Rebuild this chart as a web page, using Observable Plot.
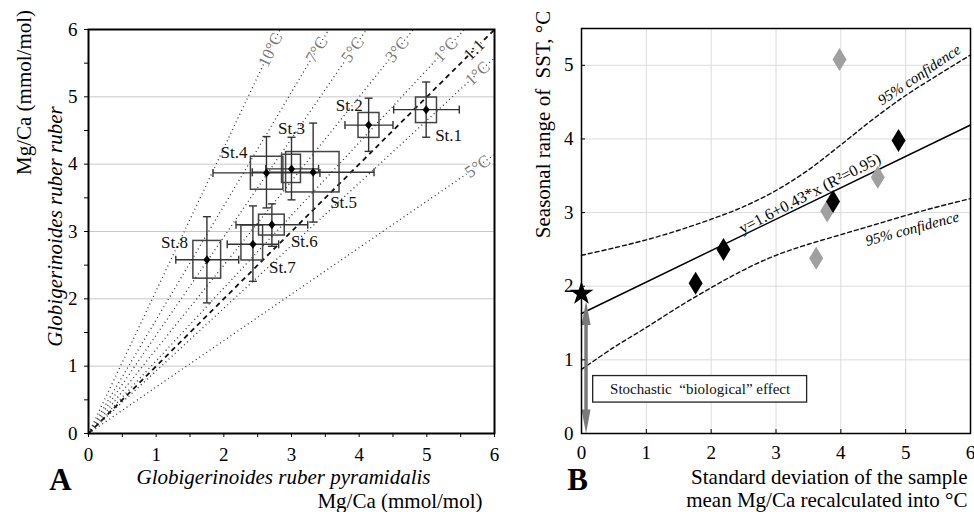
<!DOCTYPE html>
<html><head><meta charset="utf-8">
<script src="https://cdn.jsdelivr.net/npm/d3@7"></script>
<script src="https://cdn.jsdelivr.net/npm/@observablehq/plot@0.6"></script>
<style>
body{margin:0;background:#fff;}
#wrap{position:relative;width:974px;height:512px;overflow:hidden;background:#fff;}
#pa{position:absolute;left:0;top:0;}
#pb{position:absolute;left:500px;top:0;}
svg text{font-family:"Liberation Serif","Times New Roman",serif;}
</style></head><body><div id="wrap"><div id="pa"></div><div id="pb"></div></div>
<script>
// ---------- Panel A data ----------
const stNames = ["St.1","St.2","St.3","St.4","St.5","St.6","St.7","St.8"];
const stX   = [4.99, 4.14, 3.00, 2.63, 3.32, 2.71, 2.43, 1.75];
const stY   = [4.81, 4.58, 3.93, 3.87, 3.88, 3.10, 2.81, 2.58];
const stXlo = [4.51, 3.79, 2.62, 1.84, 2.42, 2.18, 2.05, 1.29];
const stXhi = [5.48, 4.50, 3.40, 3.42, 4.22, 3.24, 2.81, 2.22];
const stYlo = [4.40, 4.19, 3.47, 3.35, 3.14, 2.78, 2.26, 1.94];
const stYhi = [5.22, 4.98, 4.40, 4.41, 4.61, 3.41, 3.38, 3.22];
const boxX1 = [4.84, 3.99, 2.86, 2.40, 2.92, 2.52, 2.26, 1.55];
const boxX2 = [5.15, 4.30, 3.14, 2.88, 3.71, 2.90, 2.58, 1.96];
const boxY1 = [4.61, 4.39, 3.72, 3.62, 3.58, 2.94, 2.57, 2.30];
const boxY2 = [4.99, 4.76, 4.14, 4.11, 4.18, 3.25, 3.09, 2.86];
const isoLabels = ["10°C","7°C","5°C","3°C","1°C","1:1","1°C","5°C"];
const isoSlopes = [2.12, 1.69, 1.46, 1.25, 1.08, 1.00, 0.93, 0.69];
const ticksA = [0, 1, 2, 3, 4, 5, 6];
const minorTicksA = [0, 0.5, 1, 1.5, 2, 2.5, 3, 3.5, 4, 4.5, 5, 5.5, 6];

// ---------- Panel B data ----------
const blackX = [1.76, 2.19, 3.88, 4.89];
const blackY = [2.04, 2.50, 3.15, 3.98];
const grayX  = [3.98, 4.57, 3.79, 3.62];
const grayY  = [5.08, 3.48, 3.02, 2.38];
const starX = [0], starY = [1.90];
const fitX = [0, 6], fitY = [1.63, 4.19];
const confX     = [0, 0.5, 1, 1.5, 2, 2.5, 3, 3.5, 4, 4.5, 5, 5.5, 6];
const confUpper = [2.42, 2.52, 2.63, 2.76, 2.91, 3.08, 3.30, 3.58, 3.92, 4.27, 4.59, 4.87, 5.14];
const confLower = [0.87, 1.17, 1.44, 1.72, 1.98, 2.22, 2.42, 2.57, 2.70, 2.83, 2.96, 3.08, 3.19];
const arrowX = [0.07], arrowTop = [1.80], arrowBottom = [0.0];
const boxLabel = ["Stochastic  \u201cbiological\u201d effect"];
const boxBX1 = [0.18], boxBX2 = [3.48], boxBY1 = [0.42], boxBY2 = [0.78];
const fitLabel = ["y=1.6+0.43*x (R\u00b2=0.95)"];
const confLabel = ["95% confidence"];
const ticksBX = [0, 1, 2, 3, 4, 5, 6], ticksBY = [0, 1, 2, 3, 4, 5];
const gridB = [1, 2, 3, 4, 5];

// ---------- layout ----------
const FONT = "Liberation Serif, Times New Roman, serif";
const A = {w:500, h:512, ml:88, mr:6, mt:29, mb:79};
const B = {w:474, h:512, ml:81, mr:4, mt:28, mb:79};
const kxA = (A.w-A.ml-A.mr)/6, kyA = (A.h-A.mt-A.mb)/6;
const kxB = (B.w-B.ml-B.mr)/6, kyB = (B.h-B.mt-B.mb)/5.5;

const stations = stNames.map((name,i)=>({name, x:stX[i], y:stY[i], xlo:stXlo[i], xhi:stXhi[i],
  ylo:stYlo[i], yhi:stYhi[i], bx1:boxX1[i], bx2:boxX2[i], by1:boxY1[i], by2:boxY2[i]}));
const iso = isoLabels.map((label,i)=>{
  const s = isoSlopes[i];
  return {label, s, x2: s>=1 ? 6/s : 6, y2: s>=1 ? 6 : 6*s,
    lx: s>=1 ? 5.7/s : 5.75, ly: s>=1 ? 5.7 : 5.75*s,
    rot: -Math.atan(s*kyA/kxA)*180/Math.PI};
});
const labelPlace = {
  "St.1":["start", 9, 26], "St.2":["end", -6, -20], "St.3":["middle", 0, -40],
  "St.4":["end", -19, -20], "St.5":["start", 17, 30], "St.6":["start", 19, 17],
  "St.7":["start", 16, 23], "St.8":["end", -19, -17]
};
const sym = (f) => ({draw: f});
const smallDiamond = sym(c=>{c.moveTo(0,-4.5);c.lineTo(3.5,0);c.lineTo(0,4.5);c.lineTo(-3.5,0);c.closePath();});
const bigDiamond = sym(c=>{c.moveTo(0,-11.5);c.lineTo(7,0);c.lineTo(0,11.5);c.lineTo(-7,0);c.closePath();});
const vCap = sym(c=>{c.moveTo(0,-4);c.lineTo(0,4);});
const hCap = sym(c=>{c.moveTo(-4,0);c.lineTo(4,0);});
const headUp = sym(c=>{c.moveTo(0,0);c.lineTo(4.5,24);c.lineTo(-4.5,24);c.closePath();});
const headDown = sym(c=>{c.moveTo(0,0);c.lineTo(4.5,-24);c.lineTo(-4.5,-24);c.closePath();});

const capStyle = {fill:"none", stroke:"#333", strokeWidth:1.4};
const title = {textAnchor:"middle", lineAnchor:"middle", text:d=>d, fill:"black"};
const tickLab = {text:d=>String(d), fontSize:19, lineAnchor:"middle", fill:"black"};

const plotA = Plot.plot({
  width:A.w, height:A.h, marginLeft:A.ml, marginRight:A.mr, marginTop:A.mt, marginBottom:A.mb,
  style:{fontFamily:FONT, fontSize:"19px", background:"white", overflow:"visible", color:"black"},
  x:{domain:[0,6], axis:null}, y:{domain:[0,6], axis:null},
  marks:[
    Plot.gridY(gridB, {stroke:"#c8c8c8", strokeOpacity:1, strokeWidth:1}),
    Plot.link(iso.filter(d=>d.s!==1), {x1:0, y1:0, x2:"x2", y2:"y2", stroke:"#333", strokeWidth:1.3, strokeDasharray:"1,3.2"}),
    Plot.link(iso.filter(d=>d.s===1), {x1:0, y1:0, x2:"x2", y2:"y2", stroke:"#111", strokeWidth:1.8, strokeDasharray:"5,4"}),
    Plot.rect(stations, {x1:"bx1", x2:"bx2", y1:"by1", y2:"by2", fill:"none", stroke:"#444", strokeWidth:1.5}),
    Plot.link(stations, {x1:"xlo", x2:"xhi", y1:"y", y2:"y", stroke:"#333", strokeWidth:1.4}),
    Plot.link(stations, {x1:"x", x2:"x", y1:"ylo", y2:"yhi", stroke:"#333", strokeWidth:1.4}),
    Plot.dot(stations, {x:"xlo", y:"y", symbol:vCap, ...capStyle}),
    Plot.dot(stations, {x:"xhi", y:"y", symbol:vCap, ...capStyle}),
    Plot.dot(stations, {x:"x", y:"ylo", symbol:hCap, ...capStyle}),
    Plot.dot(stations, {x:"x", y:"yhi", symbol:hCap, ...capStyle}),
    Plot.dot(stations, {x:"x", y:"y", symbol:smallDiamond, fill:"black", stroke:"none"}),
    ...stations.map(s => Plot.text([s], {x:"x", y:"y", text:"name", textAnchor:labelPlace[s.name][0],
      dx:labelPlace[s.name][1], dy:labelPlace[s.name][2], fontSize:17, fill:"#111"})),
    Plot.text(iso, {x:"lx", y:"ly", text:"label", rotate:"rot", fontSize:17,
      fill: d => d.s===1 ? "#222" : "#7a7a7a", stroke:"white", strokeWidth:3}),
    Plot.frame({stroke:"black", strokeWidth:2}),
    Plot.axisX({ticks:minorTicksA, tickSize:4, tickFormat:()=>"", label:null}),
    Plot.axisY({ticks:minorTicksA, tickSize:4, tickFormat:()=>"", label:null}),
    Plot.text(ticksA, {...tickLab, x:d=>d, frameAnchor:"bottom", dy:21}),
    Plot.text(ticksA, {...tickLab, y:d=>d, frameAnchor:"left", textAnchor:"end", dx:-11}),
    Plot.text(["Mg/Ca (mmol/mol)"], {...title, frameAnchor:"top-left", dx:-64, dy:63, rotate:-90, fontSize:21}),
    Plot.text(["Globigerinoides ruber ruber"], {...title, frameAnchor:"top-left", dx:-33, dy:197, rotate:-90, fontSize:21, fontStyle:"italic"}),
    Plot.text(["Globigerinoides ruber pyramidalis"], {...title, frameAnchor:"bottom", dx:-8, dy:44, fontSize:21, fontStyle:"italic"}),
    Plot.text(["Mg/Ca (mmol/mol)"], {...title, frameAnchor:"bottom-right", textAnchor:"end", dx:-12, dy:68, fontSize:21}),
    Plot.text(["A"], {...title, frameAnchor:"bottom-left", dx:-28, dy:47, fontSize:31, fontWeight:"bold"})
  ]
});
document.getElementById("pa").appendChild(plotA);

// ---------- Panel B ----------
const black = blackX.map((x,i)=>({x, y:blackY[i]}));
const gray = grayX.map((x,i)=>({x, y:grayY[i]}));
const star = starX.map((x,i)=>({x, y:starY[i]}));
const fit = fitX.map((x,i)=>({x, y:fitY[i]}));
const upper = confX.map((x,i)=>({x, y:confUpper[i]}));
const lower = confX.map((x,i)=>({x, y:confLower[i]}));
const arrow = arrowX.map((x,i)=>({x, top:arrowTop[i], bottom:arrowBottom[i]}));
const box = boxLabel.map((t,i)=>({t, x1:boxBX1[i], x2:boxBX2[i], y1:boxBY1[i], y2:boxBY2[i]}));
const fitAngle = -Math.atan((fitY[1]-fitY[0])/(fitX[1]-fitX[0])*kyB/kxB)*180/Math.PI - 1.5;
const frameH = B.h-B.mt-B.mb, frameW = B.w-B.ml-B.mr;

const plotB = Plot.plot({
  width:B.w, height:B.h, marginLeft:B.ml, marginRight:B.mr, marginTop:B.mt, marginBottom:B.mb,
  style:{fontFamily:FONT, fontSize:"19px", background:"white", overflow:"visible", color:"black"},
  x:{domain:[0,6], axis:null}, y:{domain:[0,5.5], axis:null},
  marks:[
    Plot.gridX(gridB, {stroke:"#dcdcdc", strokeOpacity:1}),
    Plot.gridY(gridB, {stroke:"#dcdcdc", strokeOpacity:1}),
    Plot.line(upper, {x:"x", y:"y", curve:"catmull-rom", stroke:"#111", strokeWidth:1.4, strokeDasharray:"4,3"}),
    Plot.line(lower, {x:"x", y:"y", curve:"catmull-rom", stroke:"#111", strokeWidth:1.4, strokeDasharray:"4,3"}),
    Plot.line(fit, {x:"x", y:"y", stroke:"#000", strokeWidth:1.5}),
    Plot.rect(box, {x1:"x1", x2:"x2", y1:"y1", y2:"y2", fill:"white", stroke:"#222", strokeWidth:1.3}),
    Plot.text(box, {x:d=>(d.x1+d.x2)/2, y:d=>(d.y1+d.y2)/2, text:"t", fontSize:15, fill:"#111"}),
    Plot.link(arrow, {x1:"x", x2:"x", y1:d=>d.bottom+0.3, y2:d=>d.top-0.3, stroke:"#7a7a7a", strokeWidth:3.5}),
    Plot.dot(arrow, {x:"x", y:"top", symbol:headUp, fill:"#7a7a7a", stroke:"none"}),
    Plot.dot(arrow, {x:"x", y:"bottom", symbol:headDown, fill:"#7a7a7a", stroke:"none"}),
    Plot.dot(gray, {x:"x", y:"y", symbol:bigDiamond, fill:"#a0a0a0", stroke:"none"}),
    Plot.dot(black, {x:"x", y:"y", symbol:bigDiamond, fill:"black", stroke:"none"}),
    Plot.dot(star, {x:"x", y:"y", symbol:"star", r:7.5, fill:"black", stroke:"none"}),
    Plot.text(fitLabel, {x:()=>3.52, y:()=>3.26, text:d=>d, rotate:fitAngle, fontSize:16}),
    Plot.text(confLabel, {x:()=>5.21, y:()=>4.87, text:d=>d, rotate:-34, fontSize:15, fontStyle:"italic"}),
    Plot.text(confLabel, {x:()=>5.10, y:()=>2.78, text:d=>d, rotate:-15, fontSize:15, fontStyle:"italic"}),
    Plot.frame({stroke:"black", strokeWidth:1.5}),
    Plot.tickX(gridB, {stroke:"black", insetTop:frameH-4}),
    Plot.tickY(gridB, {stroke:"black", insetRight:frameW-4}),
    Plot.text(ticksBX, {...tickLab, x:d=>d, frameAnchor:"bottom", dy:19}),
    Plot.text(ticksBY, {...tickLab, y:d=>d, frameAnchor:"left", textAnchor:"end", dx:-8}),
    Plot.text(["Seasonal range of  SST, \u00b0C"], {...title, frameAnchor:"top-left", dx:-38, dy:96, rotate:-90, fontSize:21}),
    Plot.text(["Standard deviation of the sample"], {...title, frameAnchor:"bottom-right", textAnchor:"end", dx:-3, dy:44, fontSize:21}),
    Plot.text(["mean Mg/Ca recalculated into \u00b0C"], {...title, frameAnchor:"bottom-right", textAnchor:"end", dx:-3, dy:67, fontSize:21}),
    Plot.text(["B"], {...title, frameAnchor:"bottom-left", dx:-4, dy:47, fontSize:31, fontWeight:"bold"})
  ]
});
document.getElementById("pb").appendChild(plotB);
</script></body></html>
